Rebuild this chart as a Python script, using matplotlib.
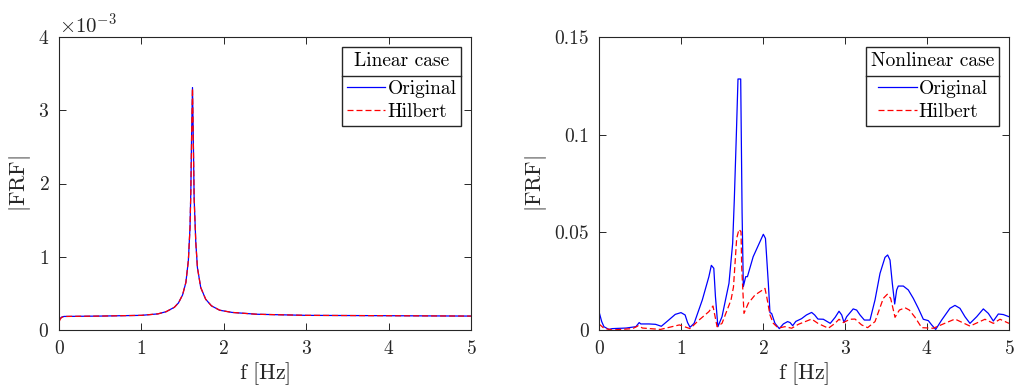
import matplotlib
matplotlib.use("Agg")
import matplotlib.pyplot as plt
from matplotlib.lines import Line2D
from matplotlib.ticker import ScalarFormatter

plt.rcParams['font.family'] = 'cmr10'
plt.rcParams['mathtext.fontset'] = 'cm'
plt.rcParams['axes.formatter.use_mathtext'] = True

# ---- Linear case data (|FRF| in units of 1e-3) ----
lin_f = [0.0, 0.005, 0.01, 0.03, 0.06, 0.5, 1.0, 1.2, 1.3, 1.4, 1.45, 1.5, 1.54, 1.57,
         1.59, 1.60, 1.61, 1.62, 1.63, 1.64, 1.66, 1.68, 1.72, 1.78, 1.85, 1.95, 2.1,
         2.4, 3.0, 4.0, 5.0]
lin_orig = [0.13, 0.14, 0.15, 0.175, 0.185, 0.19, 0.20, 0.22, 0.25, 0.31, 0.37, 0.48,
            0.65, 0.95, 1.4, 1.9, 2.7, 3.31, 2.6, 1.8, 1.2, 0.85, 0.58, 0.42, 0.33, 0.27,
            0.24, 0.215, 0.20, 0.195, 0.19]
lin_hilb = [0.0, 0.10, 0.14, 0.17, 0.185, 0.19, 0.20, 0.22, 0.25, 0.31, 0.37, 0.48,
            0.65, 0.95, 1.4, 1.9, 2.7, 3.30, 2.6, 1.8, 1.2, 0.85, 0.58, 0.42, 0.33, 0.27,
            0.24, 0.215, 0.20, 0.195, 0.19]

# ---- Nonlinear case data ----
nl_f_orig = [0.0, 0.033, 0.06, 0.12, 0.16, 0.33, 0.45, 0.49, 0.51, 0.61, 0.69, 0.76,
             0.85, 0.93, 1.0, 1.05, 1.08, 1.11, 1.16, 1.26, 1.34, 1.37, 1.40, 1.42, 1.45,
             1.50, 1.585, 1.63, 1.65, 1.675, 1.695, 1.728, 1.745, 1.76, 1.789, 1.81, 1.88,
             2.004, 2.03, 2.065, 2.085, 2.105, 2.146, 2.199, 2.248, 2.30, 2.33, 2.362, 2.40,
             2.47, 2.53, 2.593, 2.63, 2.67, 2.736, 2.82, 2.88, 2.927, 2.96, 2.988, 3.02,
             3.10, 3.142, 3.183, 3.236, 3.305, 3.366, 3.427, 3.488, 3.52, 3.549, 3.577,
             3.606, 3.63, 3.65, 3.711, 3.772, 3.833, 3.894, 3.955, 4.016, 4.057, 4.106,
             4.179, 4.28, 4.341, 4.402, 4.463, 4.524, 4.606, 4.687, 4.748, 4.809, 4.87,
             4.931, 5.0]
nl_orig = [0.0094, 0.0043, 0.0017, 0.0003, 0.0007, 0.0010, 0.0017, 0.0038, 0.0031, 0.0031,
           0.0029, 0.0019, 0.0051, 0.0080, 0.0089, 0.0077, 0.0038, 0.0014, 0.0034, 0.0154,
           0.0273, 0.0331, 0.0316, 0.0171, 0.0017, 0.0068, 0.0239, 0.0444, 0.0666, 0.1000,
           0.1285, 0.1285, 0.0600, 0.0222, 0.0273, 0.0273, 0.0375, 0.0490, 0.0469, 0.0239,
           0.0089, 0.0085, 0.0034, 0.0007, 0.0031, 0.0043, 0.0038, 0.0022, 0.0044, 0.0058,
           0.0077, 0.0090, 0.0077, 0.0056, 0.0055, 0.0034, 0.0065, 0.0096, 0.0077, 0.0039,
           0.0068, 0.0108, 0.0102, 0.0077, 0.0051, 0.0051, 0.0154, 0.0290, 0.0372, 0.0384,
           0.0358, 0.0239, 0.0133, 0.0205, 0.0225, 0.0225, 0.0205, 0.0162, 0.0111, 0.0055,
           0.0048, 0.0026, 0.0003, 0.0051, 0.0111, 0.0126, 0.0111, 0.0068, 0.0034, 0.0068,
           0.0108, 0.0085, 0.0046, 0.0082, 0.0079, 0.0068]
nl_f_hilb = [0.0, 0.06, 0.16, 0.41, 0.48, 0.53, 0.75, 0.98, 1.11, 1.22, 1.34, 1.39, 1.44,
             1.50, 1.61, 1.64, 1.679, 1.707, 1.732, 1.74, 1.768, 1.821, 1.902, 2.024, 2.045,
             2.085, 2.126, 2.187, 2.268, 2.35, 2.431, 2.593, 2.67, 2.797, 2.878, 2.927, 2.98,
             3.06, 3.122, 3.203, 3.276, 3.366, 3.467, 3.516, 3.557, 3.61, 3.663, 3.732,
             3.785, 3.854, 3.935, 4.077, 4.199, 4.341, 4.524, 4.707, 4.809, 4.89, 5.0]
nl_hilb = [0.0031, 0.0009, 0.0000, 0.0007, 0.0022, 0.0010, 0.0003, 0.0026, 0.0007, 0.0051,
           0.0094, 0.0123, 0.0017, 0.0034, 0.0154, 0.0220, 0.0469, 0.0515, 0.0503, 0.0324,
           0.0085, 0.0137, 0.0179, 0.0213, 0.0171, 0.0077, 0.0034, 0.0010, 0.0017, 0.0009,
           0.0029, 0.0056, 0.0034, 0.0009, 0.0034, 0.0055, 0.0038, 0.0055, 0.0056, 0.0026,
           0.0012, 0.0043, 0.0162, 0.0183, 0.0162, 0.0065, 0.0102, 0.0114, 0.0102, 0.0065,
           0.0012, 0.0009, 0.0031, 0.0056, 0.0020, 0.0055, 0.0034, 0.0055, 0.0034]

x_ticks = [0, 1, 2, 3, 4, 5]
lin_yticks = [0, 1e-3, 2e-3, 3e-3, 4e-3]
nl_yticks = [0, 0.05, 0.1, 0.15]
nl_yticklabels = ['0', '0.05', '0.1', '0.15']
legend_labels = ['Original', 'Hilbert']
titles = ['Linear case', 'Nonlinear case']

W, H = 1015, 389
fig = plt.figure(figsize=(W / 100, H / 100), dpi=100)
ax1 = fig.add_axes([59 / W, 1 - 330 / H, (471 - 59) / W, (330 - 37) / H])
ax2 = fig.add_axes([599 / W, 1 - 330 / H, (1009 - 599) / W, (330 - 37) / H])

axc = (0.15, 0.15, 0.15)
dash = (0, (4.8, 2.4))
ax1.plot(lin_f, [v * 1e-3 for v in lin_orig], color='blue', lw=0.9, label=legend_labels[0])
ax1.plot(lin_f, [v * 1e-3 for v in lin_hilb], color='red', lw=0.9, ls=dash,
         label=legend_labels[1])
ax1.set_ylim(0, 4e-3)
ax1.set_yticks(lin_yticks)
fmt = ScalarFormatter(useMathText=True)
fmt.set_powerlimits((-2, 2))
ax1.yaxis.set_major_formatter(fmt)

ax2.plot(nl_f_orig, nl_orig, color='blue', lw=0.9, label=legend_labels[0])
ax2.plot(nl_f_hilb, nl_hilb, color='red', lw=0.9, ls=dash, label=legend_labels[1])
ax2.set_ylim(0, 0.15)
ax2.set_yticks(nl_yticks)
ax2.set_yticklabels(nl_yticklabels)

legs = []
for ax, title in zip([ax1, ax2], titles):
    ax.set_xlim(0, 5)
    ax.set_xticks(x_ticks)
    ax.tick_params(direction='in', length=5, width=0.7, top=True, right=True,
                   labelsize=14, colors=axc, pad=7)
    for s in ax.spines.values():
        s.set_color(axc)
        s.set_linewidth(0.8)
    ax.set_xlabel(r'$\mathrm{f\ [Hz]}$', fontsize=16, color=axc, labelpad=2)
    ax.set_ylabel(r'$|\mathrm{FRF}|$', fontsize=16, color=axc, labelpad=4)
    leg = ax.legend(title=title, loc='upper right', fontsize=14, title_fontsize=14,
                    fancybox=False, edgecolor=axc, framealpha=1, handlelength=2.0,
                    handletextpad=0.1, borderpad=0.25, labelspacing=0.26,
                    borderaxespad=0.5)
    leg.get_frame().set_linewidth(1.0)
    leg._legend_box.sep = 7.5
    legs.append(leg)

ax1.yaxis.get_offset_text().set_fontsize(15)
ax1.yaxis.get_offset_text().set_color(axc)

fig.canvas.draw()
r = fig.canvas.get_renderer()
for leg in legs:
    fb = leg.get_frame().get_window_extent(r)
    tb = leg.get_title().get_window_extent(r)
    hb = leg._legend_handle_box.get_window_extent(r)
    y = (tb.y0 + hb.y1) / 2 - 1
    fig.add_artist(Line2D([fb.x0 / W, fb.x1 / W], [y / H, y / H], color=axc, lw=1.0,
                          transform=fig.transFigure))

fig.savefig('out.png', dpi=100)
